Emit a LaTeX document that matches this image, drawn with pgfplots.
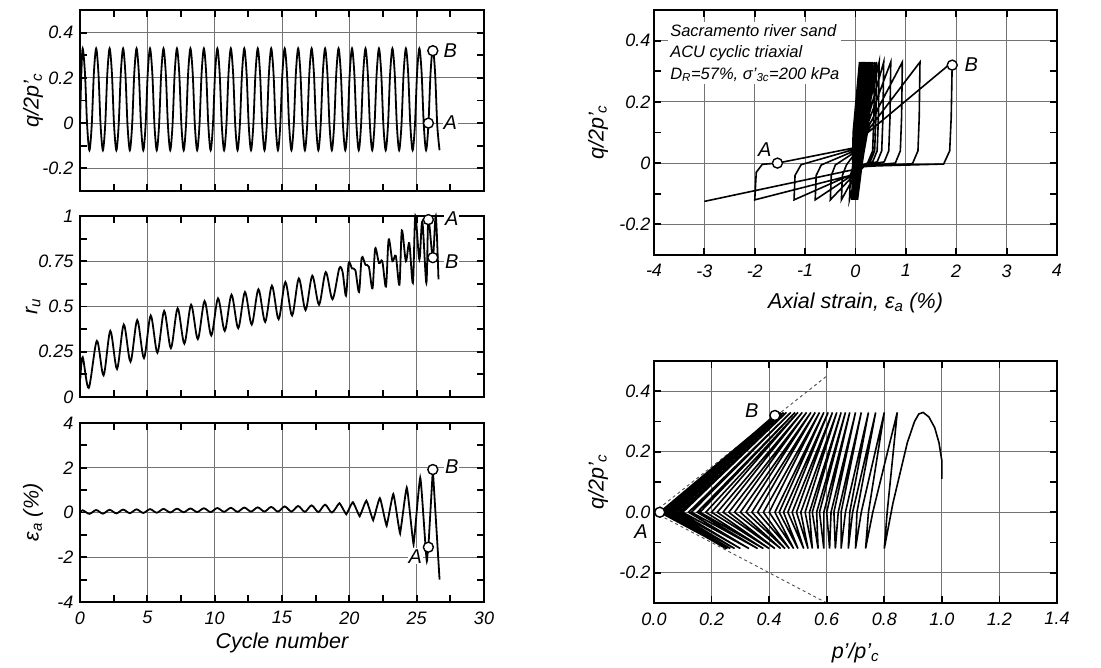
\documentclass[border=0pt]{standalone}
\usepackage{fontspec}
\setmainfont{Liberation Sans}
\usepackage{pgfplots}
\pgfplotsset{compat=1.18}
\pgfplotsset{
  panel/.style={
    scale only axis,
    anchor=south west,
    axis line style={black,line width=2.2pt},
    major tick length=0pt,
    minor tick length=0pt,
    xmajorgrids, ymajorgrids,
    major grid style={black!55,line width=0.8pt},
    tick label style={font=\fontsize{18}{18}\selectfont\itshape},
    xticklabel style={yshift=-6pt},
    label style={font=\fontsize{21.5}{24}\selectfont\itshape},
    clip=false,
  },
  dat/.style={black,line width=1.8pt,mark=none},
  pt/.style={only marks,mark=*,mark size=5pt,mark options={fill=white,draw=black,line width=1.4pt}},
}
\tikzset{lab/.style={font=\fontsize{20}{20}\selectfont\itshape,inner sep=1pt},
  tk/.style={black,line width=1.8pt}}
% inward ticks on the four sides
\newcommand{\xtk}[3]{\pgfplotsinvokeforeach{#1}{\draw[tk] (axis cs:##1,#2) -- ([yshift=7pt]axis cs:##1,#2); \draw[tk] (axis cs:##1,#3) -- ([yshift=-7pt]axis cs:##1,#3);}}
\newcommand{\ytk}[3]{\pgfplotsinvokeforeach{#1}{\draw[tk] (axis cs:#2,##1) -- ([xshift=7pt]axis cs:#2,##1); \draw[tk] (axis cs:#3,##1) -- ([xshift=-7pt]axis cs:#3,##1);}}
\newcommand{\frm}{\draw[black,line width=2.6pt] (rel axis cs:0,0) rectangle (rel axis cs:1,1);}
\begin{document}
\begin{tikzpicture}
\path[use as bounding box] (0pt,0pt) rectangle (1101pt,668pt);

% ---------------- panel 1: q vs cycle
\begin{axis}[panel, at={(80pt,477pt)}, width=404pt, height=181pt,
  xmin=0,xmax=30,ymin=-0.3,ymax=0.5,
  xtick={0,5,10,15,20,25,30}, xticklabels={,,,,,,},
  ytick={-0.2,0,0.2,0.4}, yticklabels={-0.2,0,0.2,0.4},
  yticklabel style={xshift=-3pt},
  ylabel={q/2p'\textsubscript{c}},
  ylabel style={at={(axis description cs:-0.116,0.5)},anchor=center},
]
\addplot[dat,smooth] coordinates {
(0,0) (0.1,0.22)
(0.2,0.33) (0.37,0.22) (0.53,-0.01) (0.7,-0.12) (0.87,-0.01) (1.03,0.22)
(1.2,0.33) (1.37,0.22) (1.53,-0.01) (1.7,-0.12) (1.87,-0.01) (2.03,0.22)
(2.2,0.33) (2.37,0.22) (2.53,-0.01) (2.7,-0.12) (2.87,-0.01) (3.03,0.22)
(3.2,0.33) (3.37,0.22) (3.53,-0.01) (3.7,-0.12) (3.87,-0.01) (4.03,0.22)
(4.2,0.33) (4.37,0.22) (4.53,-0.01) (4.7,-0.12) (4.87,-0.01) (5.03,0.22)
(5.2,0.33) (5.37,0.22) (5.53,-0.01) (5.7,-0.12) (5.87,-0.01) (6.03,0.22)
(6.2,0.33) (6.37,0.22) (6.53,-0.01) (6.7,-0.12) (6.87,-0.01) (7.03,0.22)
(7.2,0.33) (7.37,0.22) (7.53,-0.01) (7.7,-0.12) (7.87,-0.01) (8.03,0.22)
(8.2,0.33) (8.37,0.22) (8.53,-0.01) (8.7,-0.12) (8.87,-0.01) (9.03,0.22)
(9.2,0.33) (9.37,0.22) (9.53,-0.01) (9.7,-0.12) (9.87,-0.01) (10.03,0.22)
(10.2,0.33) (10.37,0.22) (10.53,-0.01) (10.7,-0.12) (10.87,-0.01) (11.03,0.22)
(11.2,0.33) (11.37,0.22) (11.53,-0.01) (11.7,-0.12) (11.87,-0.01) (12.03,0.22)
(12.2,0.33) (12.37,0.22) (12.53,-0.01) (12.7,-0.12) (12.87,-0.01) (13.03,0.22)
(13.2,0.33) (13.37,0.22) (13.53,-0.01) (13.7,-0.12) (13.87,-0.01) (14.03,0.22)
(14.2,0.33) (14.37,0.22) (14.53,-0.01) (14.7,-0.12) (14.87,-0.01) (15.03,0.22)
(15.2,0.33) (15.37,0.22) (15.53,-0.01) (15.7,-0.12) (15.87,-0.01) (16.03,0.22)
(16.2,0.33) (16.37,0.22) (16.53,-0.01) (16.7,-0.12) (16.87,-0.01) (17.03,0.22)
(17.2,0.33) (17.37,0.22) (17.53,-0.01) (17.7,-0.12) (17.87,-0.01) (18.03,0.22)
(18.2,0.33) (18.37,0.22) (18.53,-0.01) (18.7,-0.12) (18.87,-0.01) (19.03,0.22)
(19.2,0.33) (19.37,0.22) (19.53,-0.01) (19.7,-0.12) (19.87,-0.01) (20.03,0.22)
(20.2,0.33) (20.37,0.22) (20.53,-0.01) (20.7,-0.12) (20.87,-0.01) (21.03,0.22)
(21.2,0.33) (21.37,0.22) (21.53,-0.01) (21.7,-0.12) (21.87,-0.01) (22.03,0.22)
(22.2,0.33) (22.37,0.22) (22.53,-0.01) (22.7,-0.12) (22.87,-0.01) (23.03,0.22)
(23.2,0.33) (23.37,0.22) (23.53,-0.01) (23.7,-0.12) (23.87,-0.01) (24.03,0.22)
(24.2,0.33) (24.37,0.22) (24.53,-0.01) (24.7,-0.12) (24.87,-0.01) (25.03,0.22)
(25.2,0.33) (25.37,0.22) (25.53,-0.01) (25.7,-0.12) (25.87,-0.01) (26.03,0.22)
(26.2,0.33) (26.37,0.22) (26.53,-0.01) (26.7,-0.12)
};
\addplot[pt] coordinates {(25.87,0) (26.2,0.32)};
\xtk{0,2.5,5,7.5,10,12.5,15,17.5,20,22.5,25,27.5,30}{-0.3}{0.5}
\ytk{-0.2,-0.1,0,0.1,0.2,0.3,0.4}{0}{30}
\frm
\node[lab,fill=white] at (axis cs:27.5,0.32) {B};
\node[lab,fill=white] at (axis cs:27.5,0) {A};
\end{axis}

% ---------------- panel 2: ru vs cycle
\begin{axis}[panel, at={(80pt,271pt)}, width=404pt, height=181pt,
  xmin=0,xmax=30,ymin=0,ymax=1,
  xtick={0,5,10,15,20,25,30}, xticklabels={,,,,,,},
  ytick={0,0.25,0.5,0.75,1}, yticklabels={0,0.25,0.5,0.75,1},
  yticklabel style={xshift=-3pt},
  ylabel={r\textsubscript{u}},
  ylabel style={at={(axis description cs:-0.116,0.5)},anchor=center},
]
\addplot[dat,smooth,tension=0.5] coordinates {
(0.02,0.1) (0.2,0.22) (0.65,0.05)
(1.25,0.31) (1.75,0.12)
(2.25,0.365) (2.75,0.155)
(3.25,0.40) (3.75,0.195)
(4.25,0.425) (4.75,0.215)
(5.25,0.45) (5.75,0.245)
(6.25,0.475) (6.75,0.27)
(7.25,0.49) (7.75,0.295)
(8.25,0.51) (8.75,0.32)
(9.25,0.53) (9.75,0.34)
(10.25,0.545) (10.75,0.365)
(11.25,0.565) (11.75,0.38)
(12.25,0.58) (12.75,0.40)
(13.25,0.595) (13.75,0.415)
(14.25,0.615) (14.75,0.43)
(15.25,0.635) (15.75,0.45)
(16.25,0.655) (16.75,0.48)
(17.25,0.67) (17.75,0.51)
(18.25,0.69) (18.75,0.54)
(19.25,0.71) (19.5,0.69) (19.75,0.56)
(19.95,0.74) (20.2,0.71) (20.45,0.70) (20.72,0.58)
(20.92,0.77) (21.2,0.73) (21.45,0.72) (21.72,0.60)
(21.92,0.82) (22.2,0.74) (22.45,0.75) (22.72,0.61)
(22.92,0.87) (23.2,0.75) (23.45,0.78) (23.72,0.62)
(23.9,0.92) (24.2,0.75) (24.45,0.85) (24.72,0.63)
(24.9,1.0) (25.2,0.76) (25.42,0.97) (25.72,0.63)
(25.87,0.98) (26.2,0.77) (26.42,1.0) (26.62,0.65)
};
\addplot[pt] coordinates {(25.87,0.98) (26.2,0.77)};
\xtk{0,2.5,5,7.5,10,12.5,15,17.5,20,22.5,25,27.5,30}{0}{1}
\ytk{0.125,0.25,0.375,0.5,0.625,0.75,0.875}{0}{30}
\frm
\node[lab,fill=white] at (axis cs:27.6,0.985) {A};
\node[lab,fill=white] at (axis cs:27.6,0.75) {B};
\end{axis}

% ---------------- panel 3: axial strain vs cycle
\begin{axis}[panel, at={(80pt,66pt)}, width=404pt, height=179pt,
  xmin=0,xmax=30,ymin=-4,ymax=4,
  xtick={0,5,10,15,20,25,30}, xticklabels={0,5,10,15,20,25,30},
  ytick={-4,-2,0,2,4}, yticklabels={-4,-2,0,2,4},
  yticklabel style={xshift=-3pt},
  ylabel={ε\textsubscript{a} (\%)},
  ylabel style={at={(axis description cs:-0.116,0.5)},anchor=center},
  xlabel={Cycle number},
  xlabel style={at={(axis description cs:0.5,-0.229)},anchor=center},
]
\addplot[dat,smooth,tension=0.5] coordinates {
(0,0) (0.2,0.1) (0.7,-0.06) (1.2,0.11) (1.7,-0.05) (2.2,0.12) (2.7,-0.04)
(3.2,0.13) (3.7,-0.03) (4.2,0.14) (4.7,-0.02) (5.2,0.15) (5.7,-0.01) (6.2,0.16)
(6.7,0) (7.2,0.17) (7.7,0.01) (8.2,0.18) (8.7,0.02) (9.2,0.19) (9.7,0.02)
(10.2,0.2) (10.7,0.03) (11.2,0.21) (11.7,0.03) (12.2,0.22) (12.7,0.04)
(13.2,0.23) (13.7,0.04) (14.2,0.25) (14.7,0.04) (15.2,0.27) (15.7,0.04)
(16.2,0.29) (16.7,0.03) (17.2,0.32) (17.7,0.02) (18.2,0.35) (18.7,0.0)
(19.2,0.38) (19.33,0.37) (19.72,-0.04) (19.82,-0.03)
(20.2,0.42) (20.33,0.40) (20.72,-0.12) (20.82,-0.10)
(21.2,0.47) (21.33,0.45) (21.72,-0.28) (21.82,-0.25)
(22.2,0.56) (22.33,0.54) (22.72,-0.50) (22.82,-0.46)
(23.2,0.70) (23.33,0.67) (23.72,-0.80) (23.82,-0.74)
(24.2,0.93) (24.33,0.90) (24.72,-1.22) (24.82,-1.15)
(25.2,1.28) (25.33,1.24) (25.72,-2.0) (25.8,-1.9) (25.87,-1.55)
};
\addplot[dat] coordinates {(25.87,-1.55) (26.2,1.92) (26.7,-3.0)};
\addplot[pt] coordinates {(25.87,-1.55) (26.2,1.92)};
\xtk{0,2.5,5,7.5,10,12.5,15,17.5,20,22.5,25,27.5,30}{-4}{4}
\ytk{-3,-2,-1,0,1,2,3}{0}{30}
\frm
\node[lab,fill=white] at (axis cs:27.6,2.05) {B};
\node[lab,fill=white] at (axis cs:24.9,-1.95) {A};
\end{axis}

% ---------------- right top: q vs axial strain
\begin{axis}[panel, at={(654pt,413pt)}, width=403pt, height=245pt,
  xmin=-4,xmax=4,ymin=-0.3,ymax=0.5,
  xtick={-4,-3,-2,-1,0,1,2,3,4}, xticklabels={-4,-3,-2,-1,0,1,2,3,4},
  ytick={-0.2,0,0.2,0.4}, yticklabels={-0.2,0,0.2,0.4},
  ylabel={q/2p'\textsubscript{c}},
  ylabel style={at={(axis description cs:-0.139,0.5)},anchor=center},
  xlabel={Axial strain, ε\textsubscript{a} (\%)},
  xlabel style={at={(axis description cs:0.5,-0.196)},anchor=center},
]
\addplot[dat,line width=1.6pt] coordinates {
(0,0) (0.08,0.33)
(-0.047,0.1) (-0.07,-0.12) (0.063,0.1) (0.10,0.33)
(-0.032,0.1) (-0.06,-0.12) (0.073,0.1) (0.11,0.33)
(-0.022,0.1) (-0.05,-0.12) (0.083,0.1) (0.12,0.33)
(-0.012,0.1) (-0.04,-0.12) (0.093,0.1) (0.13,0.33)
(-0.002,0.1) (-0.03,-0.12) (0.103,0.1) (0.14,0.33)
(0.008,0.1) (-0.02,-0.12) (0.113,0.1) (0.15,0.33)
(0.018,0.1) (-0.01,-0.12) (0.123,0.1) (0.16,0.33)
(0.028,0.1) (0,-0.12) (0.133,0.1) (0.17,0.33)
(0.038,0.1) (0.01,-0.12) (0.143,0.1) (0.18,0.33)
(0.048,0.1) (0.02,-0.12) (0.153,0.1) (0.19,0.33)
(0.058,0.1) (0.03,-0.12) (0.163,0.1) (0.20,0.33)
(0.063,0.1) (0.03,-0.12) (0.168,0.1) (0.21,0.33)
(0.073,0.1) (0.04,-0.12) (0.178,0.1) (0.22,0.33)
(0.078,0.1) (0.04,-0.12) (0.188,0.1) (0.24,0.33)
(0.088,0.1) (0.04,-0.12) (0.198,0.1) (0.26,0.33)
(0.098,0.1) (0.04,-0.12) (0.208,0.1) (0.28,0.33)
(0.103,0.1) (0.03,-0.12) (0.217,0.1) (0.31,0.33)
(0.112,0.1) (0.02,-0.12) (0.227,0.1) (0.34,0.33)
(0.117,0.1) (0,-0.12) (0.236,0.1) (0.38,0.33)
(0.365,0.15) (0.34,0.04) (0.24,0.0) (0.05,-0.03) (-0.04,-0.12)
(0.0,-0.03) (0.08,0.05) (0.42,0.33)
(0.405,0.15) (0.38,0.04) (0.29,0.004) (0.12,-0.008) (0.02,-0.03) (-0.12,-0.12)
(-0.10,-0.04) (-0.04,-0.005) (0.03,0.03) (0.1,0.06) (0.47,0.33)
(0.455,0.15) (0.43,0.04) (0.34,0.004) (0.12,-0.008) (0.02,-0.03) (-0.28,-0.12)
(-0.26,-0.04) (-0.18,-0.006) (-0.02,0.03) (0.1,0.06) (0.56,0.33)
(0.545,0.15) (0.52,0.04) (0.43,0.004) (0.12,-0.008) (0.02,-0.03) (-0.5,-0.12)
(-0.48,-0.04) (-0.4,-0.006) (-0.02,0.035) (0.1,0.065) (0.70,0.33)
(0.685,0.15) (0.66,0.04) (0.57,0.004) (0.12,-0.008) (0.02,-0.03) (-0.8,-0.12)
(-0.78,-0.04) (-0.68,-0.006) (-0.02,0.04) (0.1,0.07) (0.93,0.33)
(0.915,0.15) (0.89,0.04) (0.79,0.0) (0.12,-0.01) (0.02,-0.03) (-1.22,-0.12)
(-1.2,-0.04) (-1.08,-0.005) (-0.02,0.045) (0.1,0.075) (1.28,0.33)
(1.265,0.15) (1.24,0.04) (1.13,-0.002) (0.12,-0.012) (0.02,-0.035) (-2.0,-0.12)
(-1.97,-0.03) (-1.85,-0.004) (-1.55,0.0) (-0.02,0.05) (0.1,0.08) (1.92,0.33)
(1.90,0.15) (1.87,0.04) (1.75,-0.003) (0.2,-0.01) (0.0,-0.02) (-3.0,-0.125)
};
\addplot[pt] coordinates {(-1.55,0) (1.92,0.32)};
\xtk{-3,-2,-1,0,1,2,3}{-0.3}{0.5}
\ytk{-0.2,-0.1,0,0.1,0.2,0.3,0.4}{-4}{4}
\frm
\node[lab] at (axis cs:-1.8,0.045) {A};
\node[lab] at (axis cs:2.3,0.32) {B};
\node[anchor=north west,fill=white,inner sep=2pt,align=left,
  font=\fontsize{16.5}{21.5}\selectfont\itshape] at (axis cs:-3.72,0.46)
  {Sacramento river sand\\ACU cyclic triaxial\\D\textsubscript{R}=57\%, σ'\textsubscript{3c}=200 kPa};
\end{axis}

% ---------------- right bottom: q vs p'
\begin{axis}[panel, at={(654pt,65pt)}, width=403pt, height=242pt,
  xmin=0,xmax=1.4,ymin=-0.3,ymax=0.5,
  xtick={0,0.2,0.4,0.6,0.8,1.0,1.2,1.4}, xticklabels={0.0,0.2,0.4,0.6,0.8,1.0,1.2,1.4},
  ytick={-0.2,0,0.2,0.4}, yticklabels={-0.2,0.0,0.2,0.4},
  ylabel={q/2p'\textsubscript{c}},
  ylabel style={at={(axis description cs:-0.139,0.5)},anchor=center},
  xlabel={p'/p'\textsubscript{c}},
  xlabel style={at={(axis description cs:0.5,-0.207)},anchor=center},
]
\addplot[black!70,dashed,line width=0.9pt] coordinates {(0,0) (0.6,0.45)};
\addplot[black!70,dashed,line width=0.9pt] coordinates {(0,0) (0.6,-0.3)};
\addplot[dat,line width=1.6pt] coordinates {
(1.0,0.11) (1.0,0.17) (0.99,0.23) (0.975,0.28) (0.955,0.315) (0.935,0.33)
(0.92,0.325) (0.905,0.3) (0.88,0.23) (0.83,0.03) (0.80,-0.12) (0.81,0) (0.845,0.33)
(0.76,0) (0.735,-0.12) (0.745,0) (0.80,0.33)
(0.72,0) (0.70,-0.12) (0.705,0) (0.77,0.33)
(0.69,0) (0.675,-0.12) (0.68,0) (0.745,0.33)
(0.665,0) (0.65,-0.12) (0.65,0) (0.72,0.33)
(0.64,0) (0.63,-0.12) (0.625,0) (0.70,0.33)
(0.615,0) (0.61,-0.12) (0.60,0) (0.68,0.33)
(0.59,0) (0.59,-0.12) (0.575,0) (0.665,0.33)
(0.565,0) (0.57,-0.12) (0.55,0) (0.65,0.33)
(0.54,0) (0.55,-0.12) (0.525,0) (0.635,0.33)
(0.51,0) (0.535,-0.12) (0.495,0) (0.62,0.33)
(0.48,0) (0.52,-0.12) (0.465,0) (0.605,0.33)
(0.45,0) (0.50,-0.12) (0.435,0) (0.59,0.33)
(0.42,0) (0.485,-0.12) (0.40,0) (0.575,0.33)
(0.38,0) (0.47,-0.12) (0.36,0) (0.56,0.33)
(0.34,0) (0.455,-0.12) (0.32,0) (0.545,0.33)
(0.30,0) (0.44,-0.12) (0.28,0) (0.53,0.33)
(0.26,0) (0.42,-0.12) (0.24,0) (0.515,0.33)
(0.22,0) (0.40,-0.12) (0.20,0) (0.50,0.33)
(0.18,0) (0.38,-0.12) (0.16,0) (0.49,0.33)
(0.15,0) (0.36,-0.12) (0.13,0) (0.475,0.33)
(0.12,0) (0.33,-0.12) (0.10,0) (0.46,0.33)
(0.09,0) (0.30,-0.12) (0.08,0) (0.45,0.33)
(0.07,0) (0.28,-0.12) (0.06,0) (0.44,0.33)
(0.05,0) (0.265,-0.12) (0.04,0) (0.43,0.33)
(0.03,0) (0.255,-0.12) (0.02,0) (0.42,0.32)
(0.03,0) (0.25,-0.12)
};
\addplot[pt] coordinates {(0.02,0) (0.42,0.32)};
\xtk{0.2,0.4,0.6,0.8,1.0,1.2}{-0.3}{0.5}
\ytk{-0.2,-0.1,0,0.1,0.2,0.3,0.4}{0}{1.4}
\frm
\node[lab] at (axis cs:0.34,0.335) {B};
\node[lab] at (axis cs:-0.045,-0.065) {A};
\end{axis}
\end{tikzpicture}
\end{document}
